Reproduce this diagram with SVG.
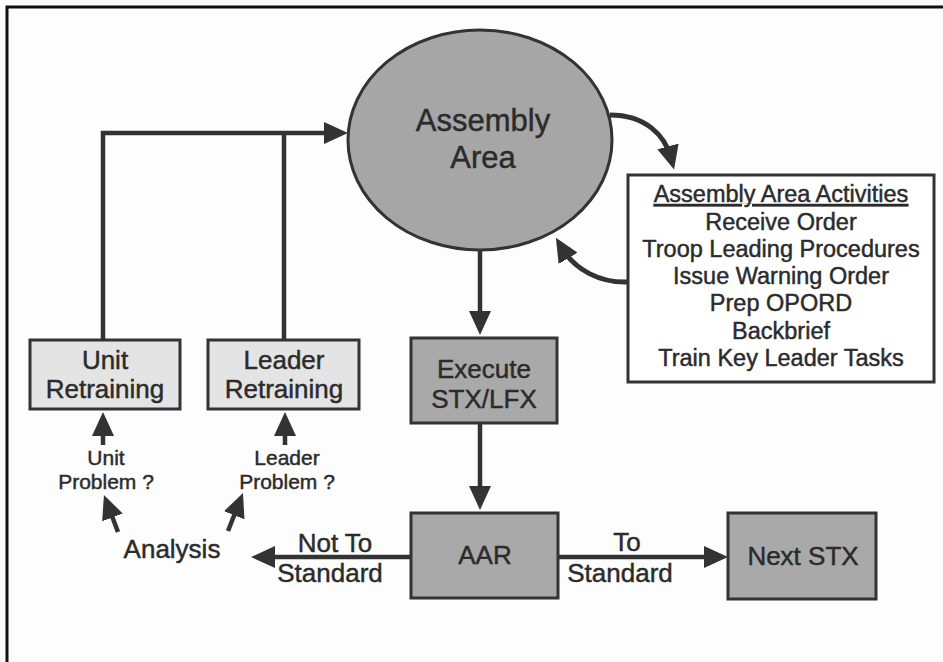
<svg xmlns="http://www.w3.org/2000/svg" width="943" height="662" viewBox="0 0 943 662">
<style>
text{font-family:"Liberation Sans",Arial,sans-serif;fill:#2b2b2b;stroke:#2b2b2b;stroke-width:0.45;text-anchor:middle}
.box{stroke:#333;stroke-width:3}
.dark{fill:#a9a9a9}
.light{fill:#e4e4e4}
.c{fill:none;stroke:#333;stroke-width:4.5}
.lbl{font-size:26px}
.sm{font-size:21px}
.act{font-size:23.5px}
.big{font-size:31px}
</style>
<defs>
<marker id="ah" markerUnits="userSpaceOnUse" markerWidth="26" markerHeight="22" refX="12" refY="11" orient="auto">
<path d="M0,0 L24,11 L0,22 z" fill="#333"/>
</marker>
</defs>
<rect x="0" y="0" width="943" height="662" fill="#fdfdfd"/>
<rect x="7" y="7" width="950" height="670" fill="none" stroke="#111" stroke-width="3"/>

<g id="connectors">
<path class="c" d="M103,340 V133 H336" marker-end="url(#ah)"/>
<path class="c" d="M284,340 V133"/>
<path class="c" d="M480,250 V323" marker-end="url(#ah)"/>
<path class="c" d="M480,423 V498" marker-end="url(#ah)"/>
<path class="c" d="M558,557 H716" marker-end="url(#ah)"/>
<path class="c" d="M411,557 H263" marker-end="url(#ah)"/>
<path class="c" d="M103,445 V424" marker-end="url(#ah)"/>
<path class="c" d="M285,445 V424" marker-end="url(#ah)"/>
<path class="c" d="M118,532 L108.2,506.2" marker-end="url(#ah)"/>
<path class="c" d="M228,531 L238.6,504.1" marker-end="url(#ah)"/>
<path class="c" style="stroke-width:5" d="M610,115 C645,115 665,135 671,158" marker-end="url(#ah)"/>
<path class="c" style="stroke-width:5" d="M628,282 C600,283 575,270 562,248" marker-end="url(#ah)"/>
</g>

<g id="assembly-area">
<ellipse cx="480" cy="140" rx="132" ry="110" class="box" fill="#a6a6a6"/>
<text class="big" x="483" y="131">Assembly</text>
<text class="big" x="483" y="168">Area</text>
</g>

<g id="activities">
<rect x="628" y="175" width="306" height="207" class="box" fill="#fff"/>
<text class="act" x="781" y="202" text-decoration="underline">Assembly Area Activities</text>
<text class="act" x="781" y="230">Receive Order</text>
<text class="act" x="781" y="257">Troop Leading Procedures</text>
<text class="act" x="781" y="284">Issue Warning Order</text>
<text class="act" x="781" y="311">Prep OPORD</text>
<text class="act" x="781" y="339">Backbrief</text>
<text class="act" x="781" y="366">Train Key Leader Tasks</text>
</g>

<g id="unit-retraining">
<rect x="30" y="340" width="150" height="69" class="box light"/>
<text class="lbl" x="105" y="369">Unit</text>
<text class="lbl" x="105" y="398">Retraining</text>
</g>

<g id="leader-retraining">
<rect x="208" y="340" width="151" height="69" class="box light"/>
<text class="lbl" x="284" y="369">Leader</text>
<text class="lbl" x="284" y="398">Retraining</text>
</g>

<g id="execute">
<rect x="411" y="338" width="146" height="85" class="box dark"/>
<text class="lbl" x="484" y="378">Execute</text>
<text class="lbl" x="484" y="408">STX/LFX</text>
</g>

<g id="aar">
<rect x="411" y="513" width="147" height="85" class="box dark"/>
<text class="lbl" x="485" y="564">AAR</text>
</g>

<g id="next-stx">
<rect x="728" y="513" width="148" height="86" class="box dark"/>
<text class="lbl" x="803" y="565">Next STX</text>
</g>

<g id="unit-problem">
<text class="sm" x="106" y="465">Unit</text>
<text class="sm" x="106" y="489">Problem ?</text>
</g>

<g id="leader-problem">
<text class="sm" x="287" y="465">Leader</text>
<text class="sm" x="287" y="489">Problem ?</text>
</g>

<g id="analysis">
<text class="lbl" x="172" y="558">Analysis</text>
</g>

<g id="edge-labels">
<text class="lbl" x="335" y="552">Not To</text>
<text class="lbl" x="330" y="582">Standard</text>
<text class="lbl" x="627" y="551">To</text>
<text class="lbl" x="620" y="582">Standard</text>
</g>
</svg>
